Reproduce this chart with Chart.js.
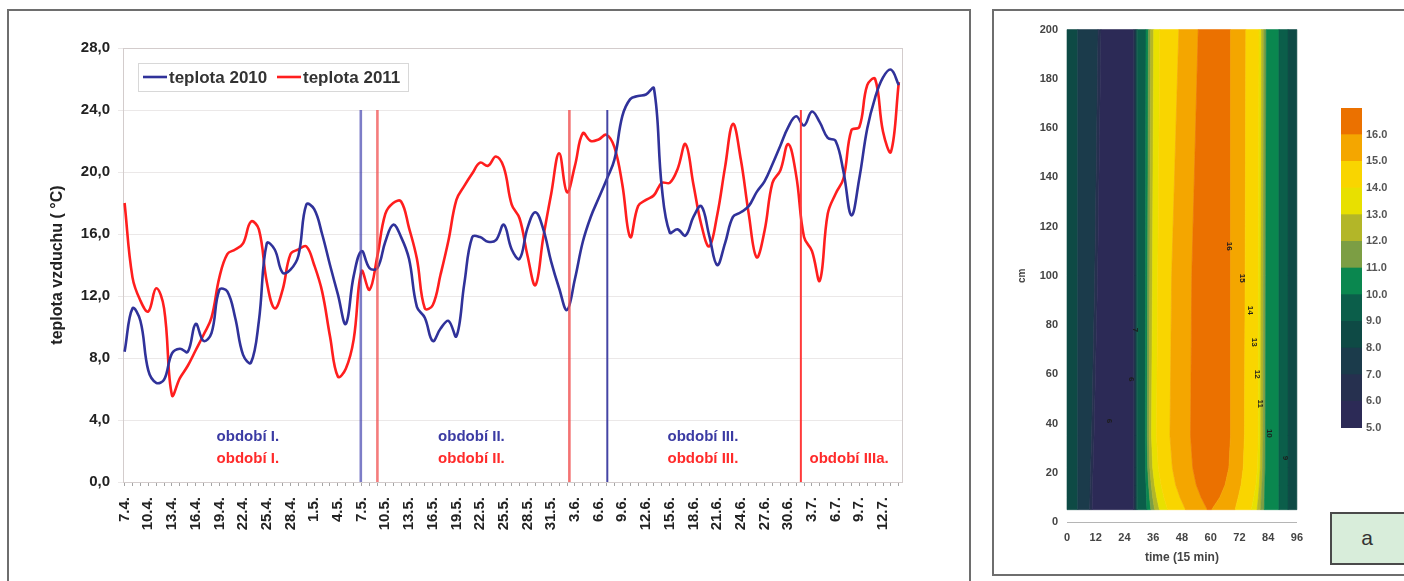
<!DOCTYPE html>
<html>
<head>
<meta charset="utf-8">
<script src="https://cdn.jsdelivr.net/npm/chart.js@4.4.1/dist/chart.umd.min.js"></script>
<style>
  body { margin: 0; background: #fff; width: 1404px; height: 581px; overflow: hidden; position: relative; }
  .frame { position: absolute; border: 2px solid #6e6e6e; box-sizing: border-box; }
  #frameL { left: 7px; top: 9px; width: 964px; height: 600px; }
  #frameR { left: 992px; top: 9px; width: 430px; height: 567px; }
  canvas { position: absolute; }
  #tempChart { left: 0; top: 0; }
  #contourChart { left: 996px; top: 14px; }
  #scaleChart { left: 1320px; top: 95px; }
  #tag { position: absolute; left: 1330px; top: 512px; width: 80px; height: 53px; box-sizing: border-box;
         background: #d8edda; border: 2px solid #4a4a4a; color: #333; text-align: center;
         font: 21px "Liberation Sans", Arial, sans-serif; line-height: 47px; padding-right: 6px; }
</style>
</head>
<body>
<div class="frame" id="frameL"></div>
<div class="frame" id="frameR"></div>
<canvas id="tempChart" width="980" height="581"></canvas>
<canvas id="contourChart" width="316" height="556"></canvas>
<canvas id="scaleChart" width="84" height="350"></canvas>
<div id="tag">a</div>
<script>
// --- left chart data: daily air temperature, 7.4. - 14.7.
const xTickLabels = ['7.4.','10.4.','13.4.','16.4.','19.4.','22.4.','25.4.','28.4.','1.5.','4.5.','7.5.',
  '10.5.','13.5.','16.5.','19.5.','22.5.','25.5.','28.5.','31.5.','3.6.','6.6.','9.6.','12.6.','15.6.',
  '18.6.','21.6.','24.6.','27.6.','30.6.','3.7.','6.7.','9.7.','12.7.']

const temp2010 = [8.4,11.2,10.4,7.2,6.4,6.6,8.3,8.6,8.4,10.2,9.1,9.6,12.4,12.3,10.6,8.2,7.7,10.4,15.4,15.0,
  13.5,13.7,14.6,17.9,17.6,16.0,14.0,12.1,10.2,13.3,14.9,13.8,13.8,15.5,16.6,15.8,14.4,11.3,10.6,9.1,
  9.9,10.4,9.4,12.8,15.8,15.8,15.5,15.6,16.6,15.0,14.4,16.4,17.4,16.3,14.2,12.5,11.1,13.1,15.5,17.1,
  18.3,19.5,20.8,23.6,24.7,24.9,25.0,25.4,19.0,16.1,16.3,15.9,17.1,17.8,15.9,14.0,15.4,17.1,17.4,17.8,
  18.7,19.4,20.5,21.7,22.9,23.6,23.0,23.9,23.2,22.2,22.0,20.0,17.2,19.6,22.8,24.8,26.1,26.6,25.6]

const temp2011 = [18.0,13.2,11.7,11.0,12.5,11.2,5.6,6.7,7.5,8.5,9.5,10.6,13.2,14.7,15.0,15.4,16.8,16.3,12.9,11.2,
  12.4,14.7,15.0,15.2,14.0,12.3,9.4,6.8,7.3,9.2,13.6,12.4,14.6,17.3,18.0,18.1,16.4,14.4,11.2,11.4,
  13.4,15.6,18.2,19.1,19.9,20.6,20.4,21.0,20.3,17.9,17.0,14.6,12.7,15.8,18.6,21.2,18.7,20.4,22.5,22.0,
  22.1,22.4,21.6,19.2,15.8,17.8,18.2,18.5,19.3,19.3,20.2,21.8,19.2,16.6,15.2,17.2,20.3,23.1,20.8,17.3,
  14.5,16.2,19.3,20.1,21.8,19.8,15.8,14.9,13.0,17.3,18.6,19.6,22.7,22.9,25.6,26.0,22.6,21.3,25.8]

// period boundaries (day index from 7.4.)
const splitDays = [29.9, 32.0, 56.3, 61.1, 85.6]
const splitYears = [2010, 2011, 2011, 2010, 2011]
const splitTop = 24

const periodText = ['období I.','období I.','období II.','období II.','období III.','období III.','období IIIa.']
const periodYears = [2010, 2011, 2010, 2011, 2010, 2011, 2011]
const periodDays = [15.6, 15.6, 43.9, 43.9, 73.2, 73.2, 91.7]

// --- right chart data: contour bands (time in 15 min steps, height in cm)
const levelStarts = [5,6,7,8,9,10,11,12,13,14,15,16]
const bandLevels = [8,7,6,5,6,7,8,9,10,11,12,13,14,15,16,15,14,13,12,11,10,9,8]
const bandHeights = [5, 10, 15, 22, 35, 100, 200]
const bandEdges = [
  [0,4.5,9.5,10.5,27.8,28.4,28.9,29.4,33.4,35.0,36.6,38.6,42.0,49.5,58.6,60.4,70.2,77.0,79.4,80.9,82.4,88.5,92.3,96],
  [0,4.5,9.6,10.6,27.8,28.4,28.9,29.4,33.2,34.5,35.8,37.5,40.5,47.2,56.0,63.8,71.5,78.0,79.9,81.1,82.5,88.5,92.3,96],
  [0,4.5,9.7,10.7,27.8,28.4,28.9,29.4,33.0,34.1,35.2,36.6,39.3,45.4,54.0,66.0,72.7,78.9,80.3,81.4,82.6,88.5,92.3,96],
  [0,4.5,9.9,10.9,27.8,28.4,28.9,29.4,32.8,33.7,34.6,35.8,38.1,44.0,52.5,67.6,73.6,79.6,80.7,81.7,82.8,88.5,92.3,96],
  [0,4.5,10.3,11.3,27.8,28.4,28.9,29.4,32.7,33.5,34.3,35.3,37.4,43.0,51.6,68.3,74.1,79.9,80.9,81.9,82.9,88.5,92.3,96],
  [0,4.5,11.6,12.8,27.8,28.4,28.9,29.4,32.8,33.7,34.6,35.7,37.9,43.7,52.1,68.3,74.4,80.0,81.0,82.0,83.0,88.5,92.3,96],
  [0,4.5,13.0,14.2,27.8,28.4,28.9,29.4,33.0,34.0,34.9,36.2,38.8,46.7,54.8,68.3,74.7,80.2,81.2,82.2,83.2,88.5,92.3,96]
]
const contourText = ['16','15','14','13','12','11','10','9','7','6','6']
const contourT = [67.6,73.3,76.6,78.3,79.5,80.8,84.5,91.0,28.4,26.8,17.7]
const contourH = [112,99,86,73,60,48,36,26,78,58,41]

// styles
const FONT = '"Liberation Sans", Arial, sans-serif'
Chart.defaults.font.family = FONT
const yearColor = {2010: '#30329a', 2011: '#ff1e1e'}
const splitColor = ['rgba(70,70,175,0.7)', 'rgba(240,80,80,0.75)', 'rgba(240,80,80,0.8)', '#4545a5', '#ff3a3a']
const levelColors = ['#2c2a56','#26304f','#1b3b4b','#0e4a45','#0b5e4a','#0a874f',
  '#7c9e44','#b3b628','#e8e000','#f9d500','#f4a600','#eb7100']

const toPts = arr => arr.map((v, i) => ({x: i, y: v}))

const splitSets = splitDays.map((d, i) => ({
  data: [{x: d, y: 0}, {x: d, y: splitTop}],
  borderColor: splitColor[i],
  borderWidth: i < 3 ? 2.6 : 2,
  pointRadius: 0
}))

const plotFrame = {
  id: 'plotFrame',
  beforeDatasetsDraw(chart) {
    const {ctx, chartArea: a} = chart
    ctx.save()
    ctx.strokeStyle = '#d3cccc'
    ctx.lineWidth = 1
    ctx.strokeRect(a.left + 0.5, a.top + 0.5, a.right - a.left, a.bottom - a.top)
    ctx.restore()
  }
}

const periodNotes = {
  id: 'periodNotes',
  afterDatasetsDraw(chart) {
    const {ctx, scales: {x, y}} = chart
    ctx.save()
    ctx.font = 'bold 15px ' + FONT
    ctx.textAlign = 'center'
    ctx.textBaseline = 'middle'
    periodText.forEach((t, i) => {
      ctx.fillStyle = periodYears[i] === 2010 ? '#3b3ba3' : '#ff2a2a'
      ctx.fillText(t, x.getPixelForValue(periodDays[i]), y.getPixelForValue(periodYears[i] === 2010 ? 2.9 : 1.5))
    })
    ctx.restore()
  }
}

const boxLegend = {
  id: 'boxLegend',
  afterDraw(chart) {
    const {ctx, chartArea: a} = chart
    const left = a.left + 15, top = a.top + 15
    ctx.save()
    ctx.fillStyle = '#fff'
    ctx.fillRect(left, top, 270, 28)
    ctx.strokeStyle = '#d8d8d8'
    ctx.lineWidth = 1
    ctx.strokeRect(left + 0.5, top + 0.5, 270, 28)
    ctx.font = 'bold 17px ' + FONT
    ctx.textBaseline = 'middle'
    const items = [['teplota 2010', 2010, 5], ['teplota 2011', 2011, 139]]
    items.forEach(([txt, yr, off]) => {
      ctx.strokeStyle = yearColor[yr]
      ctx.lineWidth = 2.6
      ctx.beginPath()
      ctx.moveTo(left + off, top + 14)
      ctx.lineTo(left + off + 24, top + 14)
      ctx.stroke()
      ctx.fillStyle = '#333'
      ctx.fillText(txt, left + off + 26, top + 15)
    })
    ctx.restore()
  }
}

new Chart(document.getElementById('tempChart'), {
  type: 'line',
  data: {
    datasets: [
      ...splitSets,
      {label: 'teplota 2010', data: toPts(temp2010), borderColor: yearColor[2010], borderWidth: 2.6, pointRadius: 0, tension: 0.4},
      {label: 'teplota 2011', data: toPts(temp2011), borderColor: yearColor[2011], borderWidth: 2.6, pointRadius: 0, tension: 0.4}
    ]
  },
  options: {
    responsive: false,
    animation: false,
    devicePixelRatio: 1,
    layout: {padding: {left: 40, top: 48, right: 78, bottom: 0}},
    plugins: {legend: {display: false}, tooltip: {enabled: false}},
    scales: {
      x: {
        type: 'linear', min: -0.2, max: 98.4,
        afterBuildTicks: ax => { ax.ticks = temp2010.map((v, i) => ({value: i})) },
        afterFit: s => { s.height = 99 },
        ticks: {
          autoSkip: false, minRotation: 90, maxRotation: 90, padding: 11,
          color: '#222', font: {size: 15, weight: 'bold'},
          callback: v => v % 3 === 0 ? xTickLabels[v / 3] : ''
        },
        grid: {drawOnChartArea: false, tickLength: 4, color: '#a5a5a5'},
        border: {color: '#a09a9a'}
      },
      y: {
        min: 0, max: 28,
        afterFit: s => { s.width = 83 },
        ticks: {stepSize: 4, padding: 8, color: '#222', font: {size: 15, weight: 'bold'},
          callback: v => v.toFixed(1).replace('.', ',')},
        grid: {color: '#ebe8e8', tickLength: 5},
        border: {color: '#b0a9a9'},
        title: {display: true, text: 'teplota vzduchu ( °C)', color: '#222',
          font: {size: 16, weight: 'bold'}, padding: {top: 8, bottom: 0}}
      }
    }
  },
  plugins: [plotFrame, periodNotes, boxLegend]
})

// --- contour plot
const contourBands = {
  id: 'contourBands',
  beforeDatasetsDraw(chart) {
    const {ctx, scales: {x, y}} = chart
    ctx.save()
    for (let k = 0; k < bandLevels.length; k++) {
      ctx.beginPath()
      bandHeights.forEach((h, r) => {
        const px = x.getPixelForValue(bandEdges[r][k]), py = y.getPixelForValue(h)
        if (r === 0) ctx.moveTo(px, py)
        else ctx.lineTo(px, py)
      })
      for (let r = bandHeights.length - 1; r >= 0; r--) {
        ctx.lineTo(x.getPixelForValue(bandEdges[r][k + 1]), y.getPixelForValue(bandHeights[r]))
      }
      ctx.closePath()
      ctx.fillStyle = levelColors[bandLevels[k] - 5]
      ctx.strokeStyle = ctx.fillStyle
      ctx.lineWidth = 0.6
      ctx.fill()
      ctx.stroke()
    }
    ctx.font = 'bold 8px ' + FONT
    ctx.fillStyle = '#1d1d1d'
    ctx.textAlign = 'center'
    ctx.textBaseline = 'middle'
    contourText.forEach((t, i) => {
      ctx.save()
      ctx.translate(x.getPixelForValue(contourT[i]), y.getPixelForValue(contourH[i]))
      ctx.rotate(Math.PI / 2)
      ctx.fillText(t, 0, 0)
      ctx.restore()
    })
    ctx.restore()
  }
}

new Chart(document.getElementById('contourChart'), {
  type: 'scatter',
  data: {datasets: [{data: []}]},
  options: {
    responsive: false,
    animation: false,
    devicePixelRatio: 1,
    layout: {padding: {left: 20, top: 15, right: 12, bottom: 0}},
    plugins: {legend: {display: false}, tooltip: {enabled: false}},
    scales: {
      x: {
        min: 0, max: 96,
        afterFit: s => { s.height = 48 },
        ticks: {stepSize: 12, padding: 9, color: '#444', font: {size: 11, weight: 'bold'}},
        grid: {display: false, drawTicks: false},
        border: {display: true, color: '#b5b5b5', dash: [2, 2]},
        title: {display: true, text: 'time (15 min)', color: '#444',
          font: {size: 12, weight: 'bold'}, padding: {top: 0, bottom: 5}}
      },
      y: {
        min: 0, max: 200,
        afterFit: s => { s.width = 51 },
        ticks: {stepSize: 20, padding: 9, color: '#444', font: {size: 11, weight: 'bold'}},
        grid: {display: false, drawTicks: false},
        border: {display: false},
        title: {display: true, text: 'cm', color: '#444', font: {size: 10, weight: 'bold'}, padding: {top: 0, bottom: 0}}
      }
    }
  },
  plugins: [contourBands]
})

// --- colour scale
new Chart(document.getElementById('scaleChart'), {
  type: 'bar',
  data: {
    labels: ['scale'],
    datasets: levelStarts.map((l, i) => ({
      data: [[l, l + 1]],
      backgroundColor: levelColors[i],
      borderWidth: 0,
      grouped: false,
      barPercentage: 1,
      categoryPercentage: 1
    }))
  },
  options: {
    responsive: false,
    animation: false,
    devicePixelRatio: 1,
    layout: {padding: {left: 21, top: 13, right: 0, bottom: 17}},
    plugins: {legend: {display: false}, tooltip: {enabled: false}},
    scales: {
      x: {display: false},
      y: {
        position: 'right', min: 5, max: 17,
        afterFit: s => { s.width = 42 },
        ticks: {stepSize: 1, padding: 4, color: '#555', font: {size: 11, weight: 'bold'},
          callback: v => v < 17 ? v.toFixed(1) : ''},
        grid: {display: false, drawTicks: false},
        border: {display: false}
      }
    }
  }
})
</script>
</body>
</html>
